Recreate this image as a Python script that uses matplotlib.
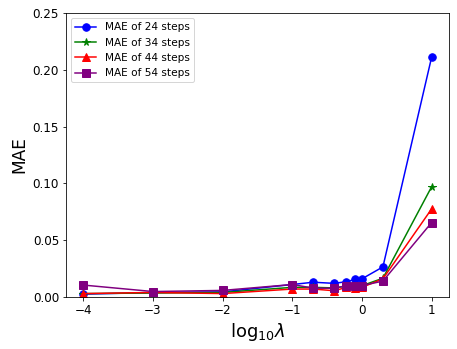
import numpy as np
import matplotlib
matplotlib.use("Agg")
import matplotlib.pyplot as plt

log_lambda = [-4, -3, -2, -1, -0.699, -0.398, -0.222, -0.097, 0, 0.301, 1]

mae_24 = [0.0025, 0.0040, 0.0045, 0.0110, 0.0130, 0.0120, 0.0135, 0.0155, 0.0160, 0.0265, 0.2110]
mae_34 = [0.0030, 0.0035, 0.0040, 0.0085, 0.0085, 0.0080, 0.0095, 0.0095, 0.0100, 0.0165, 0.0970]
mae_44 = [0.0030, 0.0040, 0.0030, 0.0070, 0.0070, 0.0055, 0.0085, 0.0080, 0.0085, 0.0160, 0.0775]
mae_54 = [0.0105, 0.0048, 0.0058, 0.0110, 0.0078, 0.0077, 0.0100, 0.0097, 0.0100, 0.0140, 0.0655]

series = [
    ("MAE of 24 steps", mae_24, "blue", "o"),
    ("MAE of 34 steps", mae_34, "green", "*"),
    ("MAE of 44 steps", mae_44, "red", "^"),
    ("MAE of 54 steps", mae_54, "purple", "s"),
]

fig = plt.figure(figsize=(457 / 72, 349 / 72), dpi=72)
ax = fig.add_axes([66 / 457, 1 - 297 / 349, (449 - 66) / 457, (297 - 13) / 349])
for label, vals, color, marker in series:
    ax.plot(log_lambda, vals, color=color, marker=marker, label=label,
            lw=1.5, markersize=7.5)

ax.set_ylim(0, 0.25)
ax.set_xticks([-4, -3, -2, -1, 0, 1])
ax.tick_params(labelsize=12)
ax.set_xlabel(r"log$_{10}\lambda$", fontsize=18)
ax.set_ylabel("MAE", fontsize=17)
ax.legend(loc="upper left", fontsize=10.5)

fig.savefig("out.png", dpi=72, facecolor="white")
